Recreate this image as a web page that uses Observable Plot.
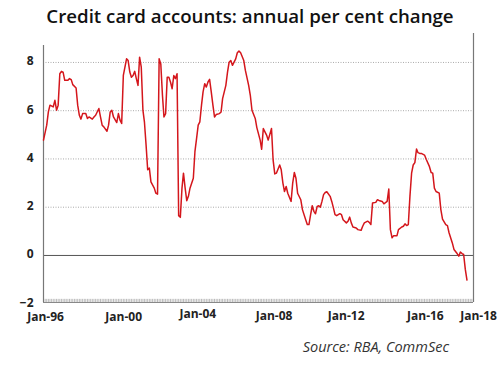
<!DOCTYPE html>
<html>
<head>
<meta charset="utf-8">
<script src="https://cdn.jsdelivr.net/npm/d3@7"></script>
<script src="https://cdn.jsdelivr.net/npm/@observablehq/plot@0.6"></script>
<style>
  html, body { margin: 0; padding: 0; background: #fff; }
  #wrap { position: relative; width: 500px; height: 370px; font-family: "Open Sans", sans-serif; }
  #title { position: absolute; left: 0; width: 500px; top: 3px; text-align: center; font-size: 18.7px; font-weight: 600; color: #111; }
  #source { position: absolute; right: 51px; top: 337px; font-size: 14.5px; font-style: italic; color: #333; }
  #chart { position: absolute; left: 0; top: 0; }
</style>
</head>
<body>
<div id="wrap">
  <div id="chart"></div>
  <div id="title">Credit card accounts: annual per cent change</div>
  <div id="source">Source: RBA, CommSec</div>
</div>
<script>
const months = [
"1996-01","1996-03","1996-04","1996-05","1996-07","1996-08","1996-09","1996-10","1996-11","1996-12",
"1997-01","1997-02","1997-04","1997-05","1997-06","1997-07","1997-09","1997-10","1997-11","1997-12",
"1998-01","1998-03","1998-04","1998-05","1998-07","1998-08","1998-09","1998-11","1998-12",
"1999-01","1999-02","1999-04","1999-05","1999-06","1999-07","1999-08","1999-10","1999-11","1999-12",
"2000-01","2000-02","2000-04","2000-05","2000-06","2000-07","2000-08","2000-09","2000-10","2000-11","2000-12",
"2001-01","2001-02","2001-03","2001-04","2001-05","2001-06","2001-07","2001-09","2001-10","2001-11","2001-12",
"2002-01","2002-02","2002-03","2002-04","2002-05","2002-06","2002-07","2002-08","2002-09","2002-10","2002-11","2002-12",
"2003-01","2003-02","2003-03","2003-04","2003-05","2003-06","2003-07","2003-09","2003-10","2003-11","2003-12",
"2004-01","2004-02","2004-03","2004-04","2004-05","2004-06","2004-07","2004-08","2004-09","2004-10","2004-11",
"2005-01","2005-02","2005-03","2005-05","2005-06","2005-07","2005-08","2005-09","2005-11","2005-12",
"2006-01","2006-02","2006-04","2006-05","2006-07","2006-08","2006-09","2006-11","2006-12",
"2007-02","2007-03","2007-04","2007-06","2007-07","2007-09","2007-10","2007-11","2007-12",
"2008-02","2008-03","2008-04","2008-05","2008-06","2008-07","2008-09","2008-10","2008-11","2008-12",
"2009-01","2009-03","2009-04","2009-06","2009-07","2009-08","2009-09","2009-10","2009-11","2009-12",
"2010-01","2010-02","2010-03","2010-04","2010-05","2010-06","2010-07","2010-09","2010-10","2010-11","2010-12",
"2011-01","2011-03","2011-04","2011-05","2011-07","2011-08","2011-09","2011-10","2011-11",
"2012-01","2012-02","2012-04","2012-05","2012-06","2012-08","2012-09","2012-10","2012-11",
"2013-01","2013-02","2013-03","2013-05","2013-06","2013-08","2013-09","2013-10","2013-11","2013-12",
"2014-02","2014-03","2014-05","2014-06","2014-07","2014-08","2014-09","2014-10","2014-11","2014-12",
"2015-01","2015-02","2015-03","2015-04","2015-05","2015-07","2015-08","2015-10","2015-11","2015-12",
"2016-01","2016-02","2016-04","2016-05","2016-06","2016-08","2016-09","2016-10","2016-12",
"2017-01","2017-03","2017-04","2017-05","2017-06","2017-07","2017-08","2017-09"
];
const change = [
4.78,5.40,5.95,6.23,6.16,6.43,6.02,6.23,7.53,7.63,
7.60,7.26,7.26,7.33,7.29,7.08,6.94,6.23,5.81,5.65,
5.88,5.88,5.68,5.74,5.65,5.74,5.81,6.09,5.74,
5.40,5.33,5.15,5.40,5.95,6.02,5.74,5.51,5.88,5.61,
5.47,7.46,8.15,8.08,7.60,7.39,7.46,7.63,7.33,7.05,8.22,
7.81,6.02,5.54,4.58,3.55,3.62,3.05,2.79,2.58,2.54,8.15,
7.94,6.64,5.74,5.88,7.39,7.39,7.19,6.91,7.46,7.33,7.53,1.65,
1.58,2.79,3.41,2.79,2.27,2.45,2.79,3.20,4.30,4.85,5.40,
5.54,6.23,6.78,7.12,6.98,7.19,7.30,6.78,6.23,5.74,5.84,
5.88,5.95,6.50,7.05,7.60,8.01,8.08,7.88,8.15,8.40,
8.47,8.40,8.08,7.67,7.05,6.64,6.02,5.68,5.30,
4.78,4.40,5.26,4.99,4.78,5.26,3.96,3.38,3.41,
3.75,3.55,3.00,2.65,2.86,2.58,2.24,3.00,3.44,3.20,
2.58,2.31,1.90,1.48,1.28,1.28,1.69,2.06,1.83,1.73,
2.03,2.06,2.00,2.24,2.52,2.61,2.64,2.45,2.24,1.97,1.69,
1.65,1.73,1.69,1.48,1.35,1.42,1.59,1.35,1.18,
1.14,1.07,1.04,1.21,1.35,1.42,1.37,1.28,2.17,
2.20,2.31,2.28,2.24,2.14,2.24,2.75,1.07,0.73,0.82,
0.82,1.07,1.18,1.21,1.31,1.24,1.28,2.45,3.41,3.75,
3.85,4.41,4.26,4.23,4.23,4.16,3.99,3.68,3.44,3.41,
2.79,2.65,2.58,1.90,1.51,1.28,1.24,0.94,0.52,
0.25,0.08,-0.03,0.14,0.08,0.04,-0.58,-1.02
];
const xTickLabels = ["Jan-96","Jan-00","Jan-04","Jan-08","Jan-12","Jan-16","Jan-18"];
const yTicks = [-2, 0, 2, 4, 6, 8];

const parseMonth = d3.utcParse("%Y-%m");
const parseLabel = d3.utcParse("Jan-%y");
const data = months.map((m, i) => ({date: parseMonth(m), value: change[i]}));
const xTicks = xTickLabels.map(parseLabel);
const x0 = xTicks[0], x1 = xTicks[xTicks.length - 1];
const yMin = -1.95, yLeftTop = 8.7, yRightTop = 9.2;
const monthTicks = d3.utcMonths(x0, x1);

// label nudges, matching the reference's hand-placed axis labels
const labelShift = {"Jan-96": [2, 0], "Jan-00": [2, 0], "Jan-04": [-2, -3], "Jan-08": [-4, -1], "Jan-12": [-10, -1], "Jan-16": [-9, -1], "Jan-18": [5, -1]};
const fmt = d3.utcFormat("Jan-%y");
const xAxes = xTicks.map(t => {
  const [dx, dy] = labelShift[fmt(t)];
  return Plot.axisX({ticks: [t], tickFormat: fmt, tickSize: 0, tickPadding: 10, dx, dy, fontSize: 12, fontWeight: "bold", fill: "#222", label: null});
});

const chart = Plot.plot({
  width: 500,
  height: 370,
  marginLeft: 43,
  marginRight: 27,
  marginTop: 33,
  marginBottom: 68,
  style: {fontFamily: "'Open Sans', sans-serif", background: "transparent"},
  x: {type: "utc", domain: [x0, x1]},
  y: {domain: [yMin, yRightTop]},
  marks: [
    Plot.gridY(yTicks.filter(d => d > 0), {stroke: "#aaa", strokeOpacity: 1, strokeDasharray: "1,1.5"}),
    Plot.ruleY([0], {x1: x0, x2: x1, stroke: "#555", strokeWidth: 1}),
    Plot.ruleX(monthTicks, {x: d => d, y1: yMin, y2: yMin + 0.13, stroke: "#aaa", strokeWidth: 0.8}),
    Plot.ruleY([yMin], {x1: x0, x2: x1, stroke: "#888", strokeWidth: 1}),
    Plot.ruleX([x0], {y1: yMin, y2: yLeftTop, stroke: "#777", strokeWidth: 1.2}),
    Plot.ruleX([x1], {y1: yMin, y2: yRightTop, stroke: "#777", strokeWidth: 1.2}),
    Plot.line(data, {x: "date", y: "value", stroke: "#d4161c", strokeWidth: 1.5}),
    Plot.axisY({ticks: yTicks, tickSize: 0, tickPadding: 10, dy: -1, fontSize: 12, fontWeight: "bold", fill: "#222", label: null}),
    ...xAxes
  ]
});
document.getElementById("chart").appendChild(chart);
</script>
</body>
</html>
